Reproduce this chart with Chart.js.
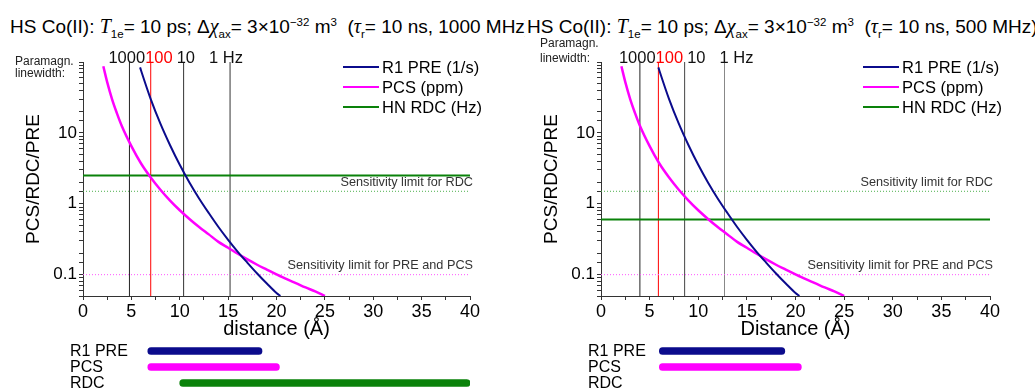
<!DOCTYPE html>
<html>
<head>
<meta charset="utf-8">
<script src="https://cdn.jsdelivr.net/npm/chart.js@4.4.1/dist/chart.umd.min.js"></script>
<style>
  body { margin: 0; width: 1035px; height: 389px; overflow: hidden; background: #fff;
         font-family: "Liberation Sans", Arial, sans-serif; position: relative; }
  canvas { position: absolute; }
  .title { position: absolute; top: 15px; font-size: 19px; line-height: 22px; white-space: nowrap; color: #000; }
  .title i.s { font-family: "Liberation Serif", serif; font-size: 20px; }
  .title sub { font-size: 11.5px; vertical-align: -5px; line-height: 0; }
  .title sup { font-size: 11.5px; vertical-align: 7px; line-height: 0; }
  #titleR { background: #fff; padding-left: 2px; }
</style>
</head>
<body>
<div class="title" style="left:10px">HS Co(II): <i class="s">T</i><sub>1e</sub>= 10 ps; Δ<i class="s">χ</i><sub>ax</sub>= 3×10<sup>−32</sup> m<sup>3</sup>&nbsp; (<i class="s">τ</i><sub>r</sub>= 10 ns, 1000 MHz)</div>
<div class="title" id="titleR" style="left:525px">HS Co(II): <i class="s">T</i><sub>1e</sub>= 10 ps; Δ<i class="s">χ</i><sub>ax</sub>= 3×10<sup>−32</sup> m<sup>3</sup>&nbsp; (<i class="s">τ</i><sub>r</sub>= 10 ns, 500 MHz)</div>

<canvas id="mainL" width="515" height="345" style="left:0;top:0"></canvas>
<canvas id="mainR" width="517" height="345" style="left:518px;top:0"></canvas>
<canvas id="barsL" width="515" height="48" style="left:0;top:343px"></canvas>
<canvas id="barsR" width="517" height="48" style="left:518px;top:343px"></canvas>

<script>
// values (distance in Å)
const preDist = [5.9, 6, 7, 8, 9, 10, 11, 12, 13, 14, 15, 16, 17, 18, 19, 20, 20.4];
const preVal = [84, 76, 30, 13.5, 6.7, 3.55, 2.0, 1.19, 0.74, 0.47, 0.31, 0.21, 0.147, 0.104, 0.075, 0.055, 0.05];

const pcsDist = [2.1, 2.5, 3, 3.5, 4, 5, 6, 7, 8, 9, 10, 11, 12, 13, 14, 15, 16, 17, 18, 19, 20, 21, 22, 23, 24, 25];
const pcsVal = [87, 52, 30, 19, 12.6, 6.5, 3.7, 2.35, 1.58, 1.11, 0.81, 0.61, 0.47, 0.37, 0.29, 0.24,
                0.197, 0.164, 0.138, 0.118, 0.101, 0.087, 0.076, 0.066, 0.058, 0.05];

const rdcLeft = 2.5;     // HN RDC (Hz), 1000 MHz
const rdcRight = 0.6;    // HN RDC (Hz), 500 MHz
const rdcLimit = 1.5;
const prePcsLimit = 0.1;

const lwLabels = ['1000', '100', '10', '1 Hz'];
const lwDistLeft = [4.8, 7.0, 10.4, 15.2];
const lwDistRight = [4.0, 5.9, 8.6, 12.7];

const legendLabels = ['R1 PRE (1/s)', 'PCS (ppm)', 'HN RDC (Hz)'];
const rangeNames = ['R1 PRE', 'PCS', 'RDC'];
const rangeLeft = [[6.7, 18.5], [6.7, 20.3], [10.0, 40]];
const rangeRight = [[6.0, 18.9], [6.0, 20.6], null];

const X_MIN = 0, X_MAX = 40, Y_MIN = 0.05, Y_MAX = 100;

const NAVY = '#0b0b8c';
const MAGENTA = '#ff00ff';
const GREEN = '#0a820a';
const FONT = '"Liberation Sans", Arial, sans-serif';

function pts(xs, ys) {
  return xs.map((x, i) => ({ x: x, y: ys[i] }));
}

function hline(y, color, width, dash) {
  return {
    data: [{ x: X_MIN, y: y }, { x: X_MAX, y: y }],
    borderColor: color, borderWidth: width, borderDash: dash || [],
    pointRadius: 0,
  };
}

function vline(x, color) {
  return {
    data: [{ x: x, y: Y_MIN }, { x: x, y: Y_MAX }],
    borderColor: color, borderWidth: 1, pointRadius: 0,
  };
}

function isDecade(v) {
  const l = Math.log10(v);
  return Math.abs(l - Math.round(l)) < 1e-6;
}

// text on top of the main plot: linewidth labels, sensitivity notes, legend
const overlay = {
  id: 'overlay',
  afterDatasetsDraw(chart, args, o) {
    const { ctx, chartArea: a, scales: { x, y } } = chart;
    ctx.save();
    ctx.textBaseline = 'middle';

    // "Paramagn. linewidth:"
    ctx.font = '12px ' + FONT;
    ctx.fillStyle = '#222';
    ctx.textAlign = 'left';
    ctx.fillText('Paramagn.', o.paraX, o.paraY[0]);
    ctx.fillText('linewidth:', o.paraX, o.paraY[1]);

    // the label row "1000 100 10 1 Hz" starts just left of the first line
    ctx.font = '16.5px ' + FONT;
    const gaps = [0, 0, 4, 14];
    let cx = x.getPixelForValue(o.lw[0]) - 21;
    lwLabels.forEach((lab, i) => {
      cx += gaps[i];
      ctx.fillStyle = i === 1 ? '#f00' : '#111';
      ctx.fillText(lab, cx, 58);
      cx += ctx.measureText(lab).width;
    });

    // sensitivity notes
    ctx.font = '12.7px ' + FONT;
    ctx.fillStyle = '#333';
    ctx.textAlign = 'right';
    ctx.fillText('Sensitivity limit for RDC', a.right + 3, y.getPixelForValue(rdcLimit) - 9);
    ctx.fillText('Sensitivity limit for PRE and PCS', a.right + 3, y.getPixelForValue(prePcsLimit) - 9);

    // legend
    const colors = [NAVY, MAGENTA, GREEN];
    ctx.font = '16.5px ' + FONT;
    ctx.textAlign = 'left';
    ctx.lineWidth = 2;
    legendLabels.forEach((lab, i) => {
      const ly = a.top + 5 + i * 20;
      ctx.strokeStyle = colors[i];
      ctx.beginPath();
      ctx.moveTo(a.right - 127, ly);
      ctx.lineTo(a.right - 91, ly);
      ctx.stroke();
      ctx.fillStyle = '#000';
      ctx.fillText(lab, a.right - 88, ly + 1);
    });
    ctx.restore();
  }
};

function mainChart(id, p) {
  const datasets = [
    { data: pts(preDist, preVal), borderColor: NAVY, borderWidth: 2, pointRadius: 0, cubicInterpolationMode: 'monotone' },
    { data: pts(pcsDist, pcsVal), borderColor: MAGENTA, borderWidth: 2.5, pointRadius: 0, cubicInterpolationMode: 'monotone' },
    hline(p.rdc, GREEN, 2),
    hline(rdcLimit, '#4caf4c', 1, [1, 2]),
    hline(prePcsLimit, '#ff55ff', 1, [1, 2]),
  ];
  p.lw.forEach((d, i) => datasets.push(vline(d, p.lwColors[i])));

  return new Chart(document.getElementById(id), {
    type: 'line',
    data: { datasets: datasets },
    options: {
      responsive: false,
      animation: false,
      layout: { padding: { left: 22, right: 45, top: 62, bottom: 4 } },
      plugins: {
        legend: { display: false },
        tooltip: { enabled: false },
        overlay: { lw: p.lw, paraX: p.paraX, paraY: p.paraY },
      },
      scales: {
        x: {
          type: 'linear', min: X_MIN, max: X_MAX,
          afterFit: (s) => { s.height = 45; },
          ticks: {
            stepSize: 2.5, autoSkip: false, maxRotation: 0, padding: 1,
            color: '#000', font: { size: 18, family: FONT },
            callback: (v) => (v % 5 === 0 ? v : ''),
          },
          grid: { drawOnChartArea: false, tickLength: 4, color: '#333' },
          border: { color: '#333', width: 1 },
          title: { display: true, text: p.xTitle, color: '#000', padding: 0, font: { size: 20, family: FONT } },
        },
        y: {
          type: 'logarithmic', min: Y_MIN, max: Y_MAX,
          afterFit: (s) => { s.width = 61; },
          ticks: {
            autoSkip: false, padding: 2,
            color: '#000', font: { size: 17, family: FONT },
            callback: (v) => (isDecade(v) && v < Y_MAX ? String(v) : ''),
          },
          grid: { drawOnChartArea: false, tickLength: 4, color: '#333' },
          border: { color: '#333', width: 1 },
          title: { display: true, text: 'PCS/RDC/PRE', color: '#000', padding: 0, font: { size: 19, family: FONT } },
        },
      },
    },
    plugins: [overlay],
  });
}

// range bars below each panel, on the same 0-40 Å scale
const rangeText = {
  id: 'rangeText',
  afterDraw(chart) {
    const { ctx, chartArea: a, scales: { y } } = chart;
    ctx.save();
    ctx.font = '16px ' + FONT;
    ctx.fillStyle = '#000';
    ctx.textAlign = 'left';
    ctx.textBaseline = 'middle';
    rangeNames.forEach((n, i) => ctx.fillText(n, a.left - 13, y.getPixelForValue(i) + 1));
    ctx.restore();
  }
};

function rangeChart(id, ranges) {
  return new Chart(document.getElementById(id), {
    type: 'bar',
    data: {
      labels: rangeNames,
      datasets: [{
        data: ranges,
        backgroundColor: [NAVY, MAGENTA, GREEN],
        barThickness: 7, borderRadius: 4, borderSkipped: false,
      }],
    },
    options: {
      indexAxis: 'y',
      responsive: false,
      animation: false,
      layout: { padding: { left: 83, right: 45, top: 0, bottom: 0 } },
      plugins: { legend: { display: false }, tooltip: { enabled: false } },
      scales: {
        x: { type: 'linear', min: X_MIN, max: X_MAX, display: false },
        y: { display: false },
      },
    },
    plugins: [rangeText],
  });
}

mainChart('mainL', {
  rdc: rdcLeft, lw: lwDistLeft, lwColors: ['#222', '#f00', '#333', '#333'],
  xTitle: 'distance (Å)', paraX: 15, paraY: [62, 74],
});
mainChart('mainR', {
  rdc: rdcRight, lw: lwDistRight, lwColors: ['#222', '#f00', '#444', '#888'],
  xTitle: 'Distance (Å)', paraX: 22, paraY: [44, 59],
});
rangeChart('barsL', rangeLeft);
rangeChart('barsR', rangeRight);
</script>
</body>
</html>
